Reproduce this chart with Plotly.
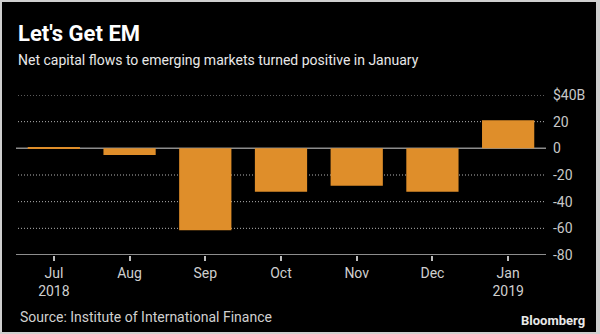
import plotly.graph_objects as go

# Net capital flows to emerging markets, $ billions
months = ["Jul<br>2018", "Aug", "Sep", "Oct", "Nov", "Dec", "Jan<br>2019"]
flows = [0.6, -5, -61.5, -32.5, -28, -32.5, 21]

y_ticks = [40, 20, 0, -20, -40, -60, -80]
y_tick_text = ["$40B", "20", "0", "-20", "-40", "-60", "-80"]
grid_levels = [40, 20, -20, -40, -60]

W, H = 600, 334
ML, MR, MT, MB = 16, 54, 95, 79
PW, PH = W - ML - MR, H - MT - MB


def px(x):
    return (x - ML) / PW


def py(y):
    return (H - MB - y) / PH


BAR = "#DF8E2A"
FONT = "Roboto, Arial, sans-serif"

fig = go.Figure(
    go.Bar(
        x=list(range(len(months))),
        y=flows,
        marker=dict(color=BAR, line=dict(width=0)),
        width=0.69,
    )
)

fig.update_layout(
    width=W,
    height=H,
    margin=dict(l=ML, r=MR, t=MT, b=MB, pad=0),
    paper_bgcolor="#cfcfcf",
    plot_bgcolor="rgba(0,0,0,0)",
    showlegend=False,
    font=dict(family=FONT, color="#c4c4c4", size=13),
)

fig.update_xaxes(
    range=[-0.5, 6.5],
    tickvals=list(range(len(months))),
    ticktext=months,
    showgrid=False,
    zeroline=False,
    showline=False,
    ticks="outside",
    ticklen=5,
    tickwidth=1.5,
    tickcolor="#bdbdbd",
    tickfont=dict(size=14, color="#cfcfcf"),
)

fig.update_yaxes(
    range=[-80, 40],
    side="right",
    tickvals=y_ticks,
    ticktext=y_tick_text,
    showgrid=False,
    zeroline=False,
    showline=False,
    ticks="",
    ticklabelstandoff=6,
    tickfont=dict(size=14, color="#c8c8c8"),
)

shapes = [
    # black card inside a thin grey frame
    dict(type="rect", xref="paper", yref="paper", layer="below",
         x0=px(2), x1=px(596), y0=py(332), y1=py(2),
         fillcolor="#000000", line=dict(width=0)),
]
# dotted gridlines
for g in grid_levels:
    shapes.append(dict(type="line", xref="paper", yref="y", x0=px(18), x1=px(544),
                       y0=g, y1=g, layer="below",
                       line=dict(color="#b4b4b4", width=1, dash="1px,2px")))
# zero line and baseline
shapes += [
    dict(type="line", xref="paper", yref="y", x0=0, x1=1, y0=0, y1=0,
         line=dict(color="#8c8c8c", width=1.5), layer="below"),
    dict(type="line", xref="paper", yref="y", x0=0, x1=1, y0=-80, y1=-80,
         line=dict(color="#bdbdbd", width=1.5)),
]

annotations = [
    dict(text="<b>Let's Get EM</b>", x=px(16), y=py(34), xref="paper", yref="paper",
         xanchor="left", yanchor="middle", showarrow=False,
         font=dict(size=22, color="#ffffff", family=FONT)),
    dict(text="Net capital flows to emerging markets turned positive in January",
         x=px(16), y=py(60), xref="paper", yref="paper",
         xanchor="left", yanchor="middle", showarrow=False,
         font=dict(size=14, color="#e8e8e8", family=FONT)),
    dict(text="Source: Institute of International Finance",
         x=px(18), y=py(317), xref="paper", yref="paper",
         xanchor="left", yanchor="middle", showarrow=False,
         font=dict(size=14, color="#d0d0d0", family=FONT)),
    dict(text="<b>Bloomberg</b>",
         x=px(587), y=py(320), xref="paper", yref="paper",
         xanchor="right", yanchor="middle", showarrow=False,
         font=dict(size=13, color="#e8e8e8", family=FONT)),
]

fig.update_layout(shapes=shapes, annotations=annotations)

fig.write_html("out.html")
